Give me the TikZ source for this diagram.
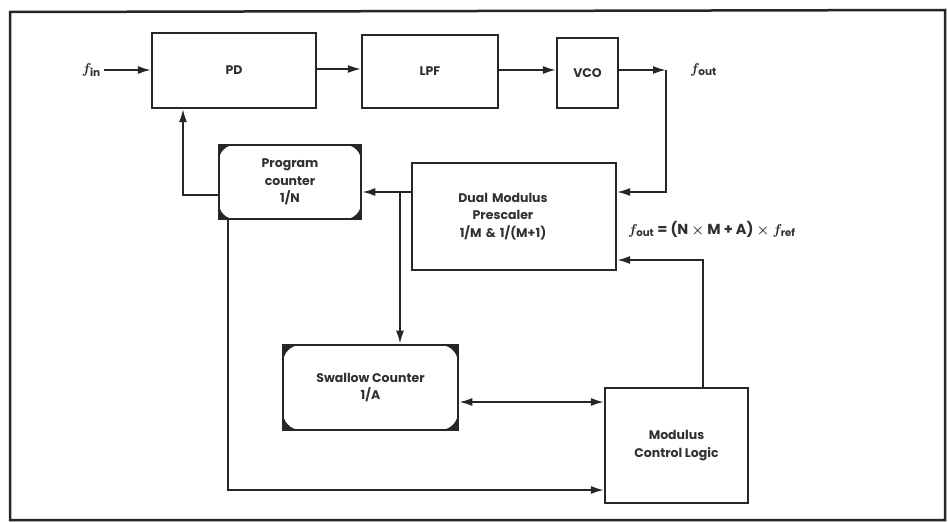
\documentclass[tikz,border=0pt]{standalone}
\usepackage{fontspec}
\setmainfont{Poppins}
\usetikzlibrary{arrows.meta}
\definecolor{ink}{HTML}{262626}
\definecolor{txt}{HTML}{303030}
\tikzset{
  blk/.style={draw=ink, line width=2.2pt, rectangle, inner sep=0pt, align=center,
    text=txt, font=\fontsize{12.5}{17.5}\selectfont\bfseries},
  cbox/.style={blk, fill=ink, line width=2.6pt,
    path picture={\fill[white, rounded corners=#1]
      (path picture bounding box.south west) rectangle (path picture bounding box.north east);}},
  cbox/.default=15pt,
  arr/.style={draw=ink, line width=1.8pt, -{Latex[length=13pt,width=8pt]}},
  arrr/.style={draw=ink, line width=1.8pt, {Latex[length=13pt,width=8pt]}-{Latex[length=13pt,width=8pt]}},
  lbl/.style={text=txt, inner sep=0pt, font=\fontsize{15}{17}\selectfont\bfseries\boldmath}
}
\begin{document}
\begin{tikzpicture}[x=1pt,y=-1pt]
\useasboundingbox (0,0) rectangle (948,522);
\fill[white] (0,0) rectangle (948,522);
% outer frame
\draw[ink, line width=2.5pt] (10,12) -- (945,10) -- (945,520) -- (10,520) -- cycle;

% blocks
\node[blk, minimum width=164pt, minimum height=75pt] (PD) at (234,70.5) {PD};
\node[blk, minimum width=136pt, minimum height=73pt] (LPF) at (430,71.5) {LPF};
\node[blk, minimum width=61pt, minimum height=70pt] (VCO) at (587.5,73) {VCO};
\node[blk, minimum width=204pt, minimum height=107pt, text width=190pt] (DMP) at (514,216.5)
  {\hspace*{-22pt}Dual Modulus\\\hspace*{-22pt}Prescaler\\\hspace*{-22pt}1/M \& 1/(M+1)};
\node[cbox=16pt, minimum width=142pt, minimum height=74pt] (PC) at (290,182)
  {Program\\counter\\1/N};
\node[cbox=18pt, minimum width=175pt, minimum height=85pt] (SC) at (370.5,387.5)
  {Swallow Counter\\1/A};
\node[blk, minimum width=143pt, minimum height=115pt] (MCL) at (676.5,445.5)
  {Modulus\\Control Logic};

% labels
\node[lbl, anchor=east] (fin) at (101,70) {$f_{\mathrm{in}}$};
\node[lbl, anchor=west] (fout) at (690,70) {$f_{\mathrm{out}}$};
\node[lbl, anchor=west, font=\fontsize{14.5}{16}\selectfont\bfseries\boldmath] (form) at (628,229)
  {$f_{\mathrm{out}}$ = (N $\times$ M + A) $\times$ $f_{\mathrm{ref}}$};

% coordinates
\coordinate (vo) at (666,70);
\coordinate (vd) at (666,192);
\coordinate (j1) at (400,192);
\coordinate (k) at (183,195);
\coordinate (b) at (228,490);
\coordinate (m) at (530,402);
\coordinate (t) at (703,260);

% connectors
\draw[arr] ([xshift=3pt]fin.east) -- (fin.east -| PD.west);
\draw[arr] (PD.east |- 0,69) -- (LPF.west |- 0,69);
\draw[arr] (LPF.east |- 0,70) -- (VCO.west |- 0,70);
\draw[arr] (VCO.east |- vo) -- (vo);
\draw[arr] (vo) -- (vd) -- (vd -| DMP.east);
\draw[arr] (j1 -| DMP.west) -- (j1 -| PC.east);
\draw[arr] (j1) -- (j1 |- SC.north);
\draw[arr] (k -| PC.west) -- (k) -- (k |- PD.south);
\draw[arr] (b |- PC.south) -- (b) -- (b -| MCL.west);
\draw[arrr] (m -| SC.east) -- (m -| MCL.west);
\draw[arr] (t |- MCL.north) -- (t) -- (t -| DMP.east);
\end{tikzpicture}
\end{document}
